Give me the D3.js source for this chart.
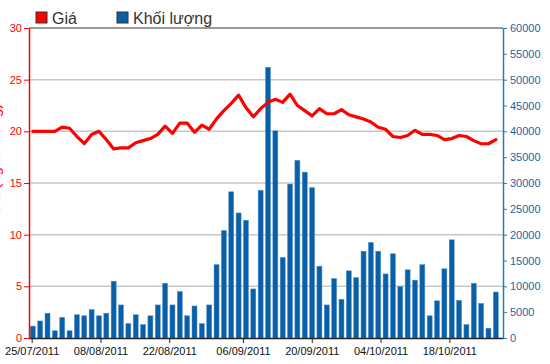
<!DOCTYPE html>
<html>
<head>
<meta charset="utf-8">
<script src="https://cdn.jsdelivr.net/npm/d3@7"></script>
<style>
  body { margin: 0; background: #fff; }
  svg { display: block; font-family: "Liberation Sans", Arial, sans-serif; }
</style>
</head>
<body>
<div id="chart"></div>
<script>
// trading days 25/07/2011 - 21/10/2011
var days = ["25/07","26/07","27/07","28/07","29/07",
  "01/08","02/08","03/08","04/08","05/08","08/08","09/08","10/08","11/08","12/08",
  "15/08","16/08","17/08","18/08","19/08","22/08","23/08","24/08","25/08","26/08",
  "29/08","30/08","31/08","01/09","05/09","06/09","07/09","08/09","09/09",
  "12/09","13/09","14/09","15/09","16/09","19/09","20/09","21/09","22/09","23/09",
  "26/09","27/09","28/09","29/09","30/09","03/10","04/10","05/10","06/10","07/10",
  "10/10","11/10","12/10","13/10","14/10","17/10","18/10","19/10","20/10","21/10"];

var price = [20.0,20.0,20.0,20.0,20.4,20.3,19.5,18.8,19.7,20.0,
  19.2,18.3,18.4,18.4,18.9,19.1,19.3,19.7,20.5,19.8,
  20.8,20.8,19.9,20.6,20.2,21.2,22.0,22.7,23.5,22.3,
  21.4,22.2,22.8,23.1,22.8,23.6,22.5,22.0,21.5,22.2,
  21.7,21.7,22.1,21.6,21.4,21.2,20.9,20.4,20.2,19.5,
  19.4,19.6,20.1,19.7,19.7,19.6,19.2,19.3,19.6,19.5,
  19.1,18.8,18.8,19.2];

var volume = [2300,3300,4800,1400,4000,1400,4500,4300,5500,4300,
  4800,11000,6400,2800,4500,2600,4300,6400,10600,6400,
  9000,4300,6200,2800,6400,14200,20800,28300,24200,22800,
  9500,28600,52400,40100,15600,29800,34400,32100,29100,13900,
  6400,11500,7500,13000,11700,16800,18500,16800,12400,16300,
  10000,13200,11200,14200,4300,7200,13400,19000,7300,2600,
  10600,6700,1900,8900];

var priceTicks = [0, 5, 10, 15, 20, 25, 30];
var volTicks = [0,5000,10000,15000,20000,25000,30000,35000,40000,45000,50000,55000,60000];
var dateTicks = ["25/07/2011","08/08/2011","22/08/2011","06/09/2011","20/09/2011","04/10/2011","18/10/2011"];

var W = 550, H = 364;
var plotL = 29, plotR = 503, plotT = 28, plotB = 338;
var red = "#ff0000", barBlue = "#0b5fa7", axisBlue = "#2a7bb8", textBlue = "#1f64a0";

var svg = d3.select("#chart").append("svg").attr("width", W).attr("height", H);

var y = d3.scaleLinear().domain([0, 30]).range([plotB, plotT]);
var y2 = d3.scaleLinear().domain([0, 60000]).range([plotB, plotT]);
var xb = d3.scaleBand().domain(days).range([plotL, plotR])
  .paddingInner(0.32).paddingOuter(0.408).align(0.22);
var parse = d3.timeParse("%d/%m/%Y");
var xt = d3.scaleTime()
  .domain([new Date(2011, 6, 24, 11), new Date(2011, 9, 28, 22)])
  .range([plotL, plotR]);

// grid
svg.append("g").selectAll("line")
  .data(priceTicks.filter(d => d > 0 && d < 30))
  .enter().append("line")
  .attr("x1", plotL).attr("x2", plotR)
  .attr("y1", d => y(d)).attr("y2", d => y(d))
  .attr("stroke", "#c8c8c8").attr("stroke-width", 1.5);

// top border
svg.append("line").attr("x1", plotL).attr("x2", plotR)
  .attr("y1", plotT).attr("y2", plotT)
  .attr("stroke", "#333").attr("stroke-width", 1.2);

// bars
svg.append("g").selectAll("rect")
  .data(volume)
  .enter().append("rect")
  .attr("x", (d, i) => xb(days[i]))
  .attr("width", xb.bandwidth())
  .attr("y", d => y2(d))
  .attr("height", d => plotB - y2(d))
  .attr("fill", barBlue)
  .attr("stroke", "#4f93cf").attr("stroke-width", 0.5);

// price line
var line = d3.line()
  .x((d, i) => xb(days[i]) + xb.bandwidth() / 2)
  .y(d => y(d));
svg.append("path").datum(price)
  .attr("d", line)
  .attr("fill", "none")
  .attr("stroke", red).attr("stroke-width", 3.2)
  .attr("stroke-linejoin", "round").attr("stroke-linecap", "round");

// x axis
var gx = svg.append("g").attr("transform", "translate(0," + plotB + ")")
  .call(d3.axisBottom(xt).tickValues(dateTicks.map(parse))
    .tickFormat(d3.timeFormat("%d/%m/%Y")).tickSize(5).tickPadding(4).tickSizeOuter(0));
gx.select(".domain").attr("stroke", "#222").attr("stroke-width", 1.5);
gx.selectAll(".tick line").attr("stroke", "#222");
gx.selectAll("text").attr("fill", "#111").style("font-size", "11px");

// left axis
var gl = svg.append("g").attr("transform", "translate(" + plotL + ",0)")
  .call(d3.axisLeft(y).tickValues(priceTicks).tickSize(5).tickPadding(2).tickSizeOuter(0));
gl.select(".domain").attr("stroke", red).attr("stroke-width", 1.5);
gl.selectAll(".tick line").attr("stroke", red);
gl.selectAll("text").attr("fill", red).style("font-size", "11px");

// right axis
var gr = svg.append("g").attr("transform", "translate(" + plotR + ",0)")
  .call(d3.axisRight(y2).tickValues(volTicks).tickFormat(d3.format("d"))
    .tickSize(4).tickPadding(3).tickSizeOuter(0));
gr.select(".domain").attr("stroke", axisBlue).attr("stroke-width", 1.5);
gr.selectAll(".tick line").attr("stroke", axisBlue);
gr.selectAll("text").attr("fill", textBlue).style("font-size", "11px");

// left axis title, mostly cut off at the page edge
svg.append("text")
  .attr("transform", "translate(0,160) rotate(-90)")
  .attr("text-anchor", "middle")
  .attr("fill", red).style("font-size", "15px")
  .text("Giá (nghìn đồng)");

// legend
var legend = [{ name: "Giá", color: red, x: 36 }, { name: "Khối lượng", color: barBlue, x: 117 }];
var lg = svg.append("g").selectAll("g").data(legend).enter().append("g");
lg.append("rect")
  .attr("x", d => d.x).attr("y", 12).attr("width", 11).attr("height", 11)
  .attr("fill", d => d.color).attr("stroke", "#333").attr("stroke-width", 1);
lg.append("text")
  .attr("x", d => d.x + 16).attr("y", 24)
  .attr("fill", "#333").style("font-size", "16px")
  .text(d => d.name);
</script>
</body>
</html>
